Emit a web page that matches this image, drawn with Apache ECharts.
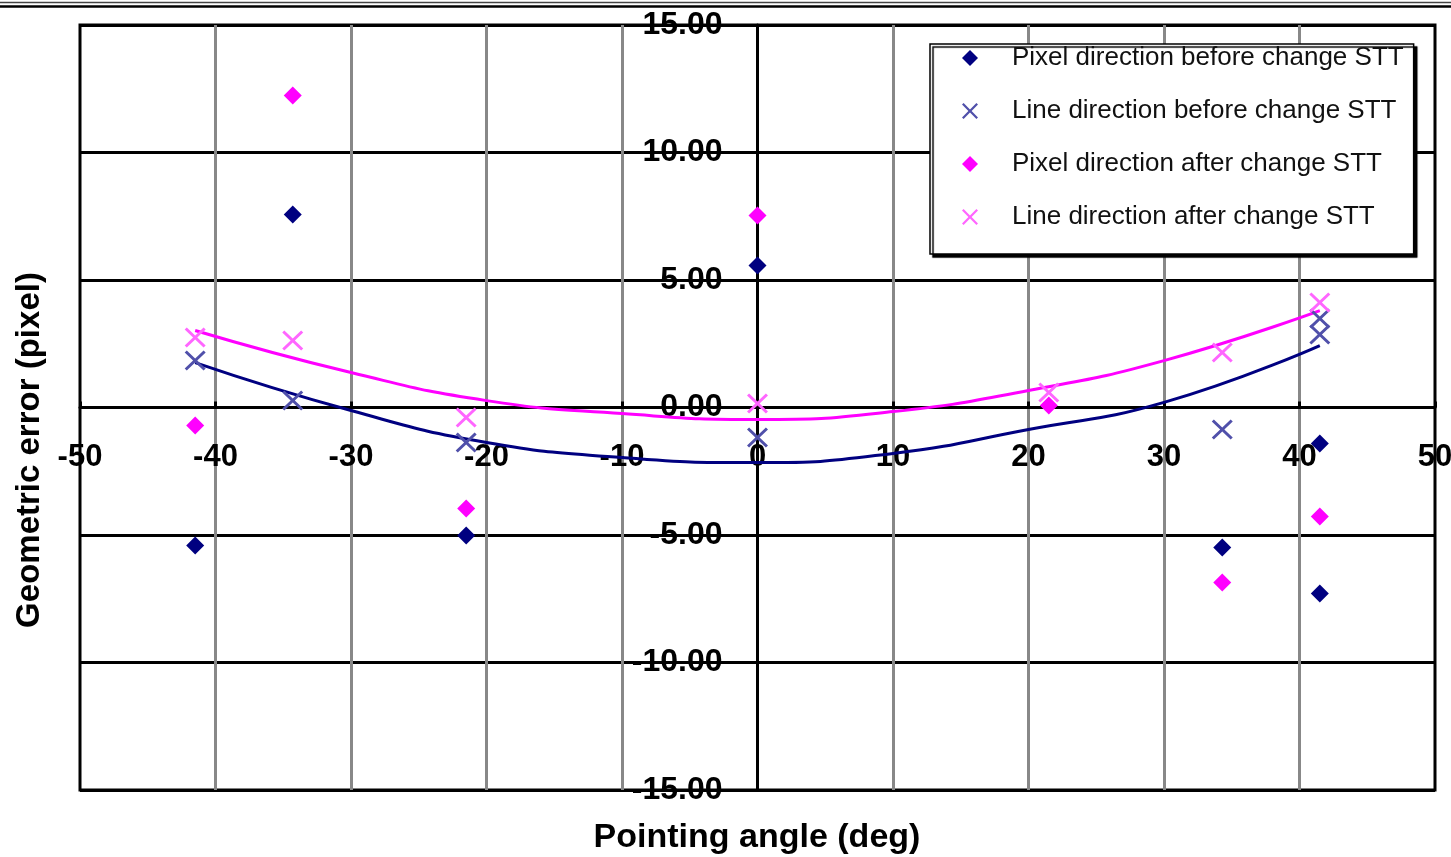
<!DOCTYPE html>
<html>
<head>
<meta charset="utf-8">
<script src="https://cdn.jsdelivr.net/npm/echarts@6/dist/echarts.min.js"></script>
<style>
html,body{margin:0;padding:0;background:#fff;}
#chart{width:1451px;height:857px;}
</style>
</head>
<body>
<div id="chart"></div>
<script>
// ---- Data ----
const seriesNames = [
  'Pixel direction before change STT',
  'Line direction before change STT',
  'Pixel direction after change STT',
  'Line direction after change STT'
];
const pixelBefore = [[-41.5,-5.41],[-34.3,7.57],[-21.5,-5.02],[0,5.57],[34.3,-5.49],[41.5,-1.41],[41.5,-7.29]];
const lineBefore  = [[-41.5,1.84],[-34.3,0.27],[-21.5,-1.37],[0,-1.18],[34.3,-0.86],[41.5,3.49],[41.5,2.86]];
const pixelAfter  = [[-41.5,-0.71],[-34.3,12.24],[-21.5,-3.96],[0,7.53],[21.5,0.08],[34.3,-6.86],[41.5,-4.27]];
const lineAfter   = [[-41.5,2.75],[-34.3,2.63],[-21.5,-0.39],[0,0.16],[21.5,0.59],[34.3,2.16],[41.5,4.12]];
// trend curves
const trendBefore = [[-41.5,1.76],[-30,-0.12],[-20,-1.37],[-10,-1.96],[0,-2.16],[10,-1.80],[20,-0.86],[30,0.20],[41.5,2.43]];
const trendAfter  = [[-41.5,3.02],[-30,1.37],[-20,0.27],[-10,-0.24],[0,-0.47],[10,-0.16],[20,0.67],[30,1.84],[41.5,3.80]];
const xTicks = {min:-50, max:50, interval:10};
const yTicks = {min:-15, max:15, interval:5};
const xTitle = 'Pointing angle (deg)';
const yTitle = 'Geometric error (pixel)';

const DIAMOND = 'path://M5,0L10,5L5,10L0,5Z';
const CROSS = 'path://M0,1L1,0L5,4L9,0L10,1L6,5L10,9L9,10L5,6L1,10L0,9L4,5Z';
const FONT = '"Liberation Sans", Arial, sans-serif';
const colors = ['#000080', '#5050AA', '#FF00FF', '#FF66FF'];

const W = 1451, H = 857;
const G = {left:80, right:16, top:25, bottom:67};
const gridW = W - G.left - G.right, gridH = H - G.top - G.bottom;

const chart = echarts.init(document.getElementById('chart'), null, {renderer:'canvas'});
const option = {
  animation: false,
  backgroundColor: '#fff',
  grid: {left:G.left, right:G.right, top:G.top, bottom:G.bottom, show:true, borderColor:'#000', borderWidth:3,
    containLabel:false, outerBoundsMode:'none'},
  xAxis: {
    type:'value', min:xTicks.min, max:xTicks.max, interval:xTicks.interval,
    position:'bottom', offset:-gridH/2,
    axisLine:{show:true, onZero:false, lineStyle:{color:'#000', width:3}},
    axisTick:{show:true, inside:true, length:6, lineStyle:{color:'#000', width:3}},
    axisLabel:{show:true, margin:34, color:'#000', fontSize:31, fontWeight:'bold', fontFamily:FONT, showMinLabel:true, showMaxLabel:true},
    splitLine:{show:true, showMinLine:false, showMaxLine:false, lineStyle:{color:'#888', width:3}}
  },
  yAxis: {
    type:'value', min:yTicks.min, max:yTicks.max, interval:yTicks.interval,
    position:'left', offset:-gridW/2,
    axisLine:{show:true, onZero:false, lineStyle:{color:'#000', width:3}},
    axisTick:{show:false},
    axisLabel:{show:true, margin:35, color:'#000', fontSize:32, fontWeight:'bold', fontFamily:FONT,
      formatter: v => v.toFixed(2), showMinLabel:true, showMaxLabel:true},
    splitLine:{show:true, lineStyle:{color:'#000', width:3}}
  },
  legend: {
    orient:'vertical', left:930, top:44,
    padding:[1, 10, 24, 32],
    itemWidth:16, itemHeight:16, itemGap:27, symbolKeepAspect:true,
    backgroundColor:'#fff', borderColor:'#000', borderWidth:1.5,
    shadowColor:'#000', shadowOffsetX:3, shadowOffsetY:3, shadowBlur:1,
    textStyle:{fontSize:26, color:'#111', fontFamily:FONT, lineHeight:26, padding:[0,0,0,29]},
    data:[
      {name:seriesNames[0], icon:DIAMOND},
      {name:seriesNames[1], icon:CROSS},
      {name:seriesNames[2], icon:DIAMOND},
      {name:seriesNames[3], icon:CROSS}
    ]
  },
  graphic: [
    {type:'line', shape:{x1:0, y1:2.5, x2:W, y2:2.5}, style:{stroke:'#444', lineWidth:1.5}, z:100},
    {type:'line', shape:{x1:0, y1:6.5, x2:W, y2:6.5}, style:{stroke:'#000', lineWidth:2.5}, z:100},
    {type:'text', x:757, y:838, style:{text:xTitle, fontSize:34, fontWeight:'bold', fontFamily:FONT, fill:'#000', textAlign:'center', textVerticalAlign:'middle'}},
    {type:'text', x:30, y:450, rotation:Math.PI/2, style:{text:yTitle, fontSize:33, fontWeight:'bold', fontFamily:FONT, fill:'#000', textAlign:'center', textVerticalAlign:'middle'}}
  ],
  series: [
    {type:'line', name:'trendBefore', data:trendBefore, smooth:true, showSymbol:false, symbol:'none',
      lineStyle:{color:colors[0], width:3}, z:2, silent:true},
    {type:'line', name:'trendAfter', data:trendAfter, smooth:true, showSymbol:false, symbol:'none',
      lineStyle:{color:colors[2], width:3}, z:2, silent:true},
    {type:'scatter', name:seriesNames[0], data:pixelBefore, symbol:DIAMOND, symbolSize:[18,18], itemStyle:{color:colors[0], opacity:1}, z:3},
    {type:'scatter', name:seriesNames[1], data:lineBefore, symbol:CROSS, symbolSize:[21,20], itemStyle:{color:colors[1], opacity:1}, z:3},
    {type:'scatter', name:seriesNames[2], data:pixelAfter, symbol:DIAMOND, symbolSize:[18,18], itemStyle:{color:colors[2], opacity:1}, z:3},
    {type:'scatter', name:seriesNames[3], data:lineAfter, symbol:CROSS, symbolSize:[21,20], itemStyle:{color:colors[3], opacity:1}, z:3}
  ]
};
chart.setOption(option);
</script>
</body>
</html>
